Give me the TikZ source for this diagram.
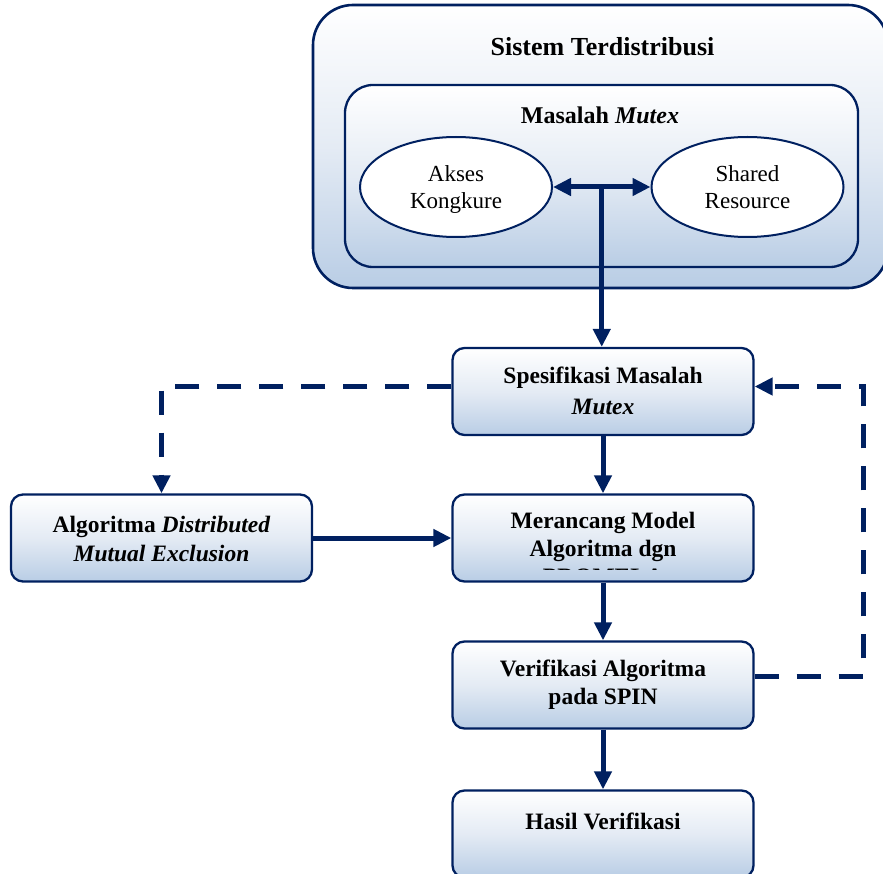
\documentclass[tikz,border=0pt]{standalone}
\usepackage{fontspec}
\setmainfont{Liberation Serif}
\usetikzlibrary{arrows.meta,calc,shapes.geometric}

\definecolor{navy}{HTML}{002060}
\definecolor{panelblue}{HTML}{B9CDE5}
\definecolor{panelmid}{HTML}{E4EBF4}
% white at the top, light blue at the bottom
\pgfdeclareverticalshading{panelfill}{100bp}{color(0bp)=(panelblue); color(25bp)=(panelblue); color(50bp)=(panelmid); color(75bp)=(white); color(100bp)=(white)}

\begin{document}
\begin{tikzpicture}[x=1pt,y=-1pt,
  panel/.style={draw=navy, line width=2.3pt, shading=panelfill, rectangle, inner sep=0pt},
  stepbox/.style={panel, rounded corners=12pt, minimum width=301pt, minimum height=87pt},
  oval/.style={ellipse, draw=navy, line width=2pt, fill=white, minimum width=192pt, minimum height=100pt, inner sep=0pt},
  boldtext/.style={font=\fontsize{23.5}{28}\selectfont\bfseries, anchor=base, inner sep=0pt},
  titletext/.style={font=\fontsize{26}{30}\selectfont\bfseries, anchor=base, inner sep=0pt},
  plaintext/.style={font=\fontsize{23}{28}\selectfont, anchor=base, inner sep=0pt},
  flow/.style={draw=navy, line width=5pt, -{Triangle[length=18pt,width=17pt]}},
  loopback/.style={flow, dash pattern=on 24pt off 18pt},
]
\useasboundingbox (0,0) rectangle (883,874);
\clip (0,0) rectangle (883,874);

% distributed system and the mutex problem inside it
\node[panel, rounded corners=40pt, line width=2.6pt, minimum width=575pt, minimum height=283pt] (sys) at (600.5,146.5) {};
\node[titletext] (sys-t) at (602.5,56) {Sistem Terdistribusi};
\node[panel, rounded corners=28pt, minimum width=513pt, minimum height=182pt] (mtx) at (601.5,176) {};
\node[boldtext, font=\fontsize{24}{28}\selectfont\bfseries] (mtx-t) at (600,124) {Masalah \textit{Mutex}};

\node[oval] (akses) at (456,187) {};
\node[plaintext] (akses-l1) at (456,181.5) {Akses};
\node[plaintext] (akses-l2) at (456,209) {Kongkure};
\node[oval] (shared) at (747.5,187) {};
\node[plaintext] (shared-l1) at (747.5,181.5) {Shared};
\node[plaintext] (shared-l2) at (747.5,209) {Resource};

% process steps
\node[stepbox] (spec) at (603,391.5) {};
\node[boldtext] (spec-l1) at (603,383) {Spesifikasi Masalah};
\node[boldtext] (spec-l2) at (603,414) {\textit{Mutex}};

\node[stepbox] (algo) at (161.5,538) {};
\node[boldtext] (algo-l1) at (161.5,532) {Algoritma \textit{Distributed}};
\node[boldtext] (algo-l2) at (161.5,561) {\textit{Mutual Exclusion}};

\node[stepbox] (model) at (603,538) {};
\node[boldtext] (model-l1) at (603,528) {Merancang Model};
\node[boldtext] (model-l2) at (603,556) {Algoritma dgn};
\begin{scope}
  \clip (453,560) rectangle (753,569.5);
  \node[boldtext] (model-l3) at (603,584) {PROMELA};
\end{scope}

\node[stepbox] (verif) at (603,685) {};
\node[boldtext] (verif-l1) at (603,676) {Verifikasi Algoritma};
\node[boldtext] (verif-l2) at (603,704) {pada SPIN};

\node[stepbox] (hasil) at (603,834) {};
\node[boldtext] (hasil-l1) at (603,829) {Hasil Verifikasi};

% connectors
\coordinate (tj) at ($(akses.east)!0.5!(shared.west)$);
\draw[flow, {Triangle[length=18pt,width=17pt]}-{Triangle[length=18pt,width=17pt]}] (akses.east) -- (shared.west);
\draw[flow] (tj) -- (tj |- spec.north);
\draw[flow] (spec.south) -- (model.north);
\draw[flow] (model.south) -- (verif.north);
\draw[flow] (verif.south) -- (hasil.north);
\draw[flow] (algo.east) -- (model.west);

\draw[loopback] ([yshift=5pt]spec.west) -| (algo.north);
\coordinate (rtc) at (863,386.5);
\draw[loopback] ([yshift=9pt]verif.east) -| (rtc) -- ([yshift=5pt]spec.east);
\end{tikzpicture}
\end{document}
